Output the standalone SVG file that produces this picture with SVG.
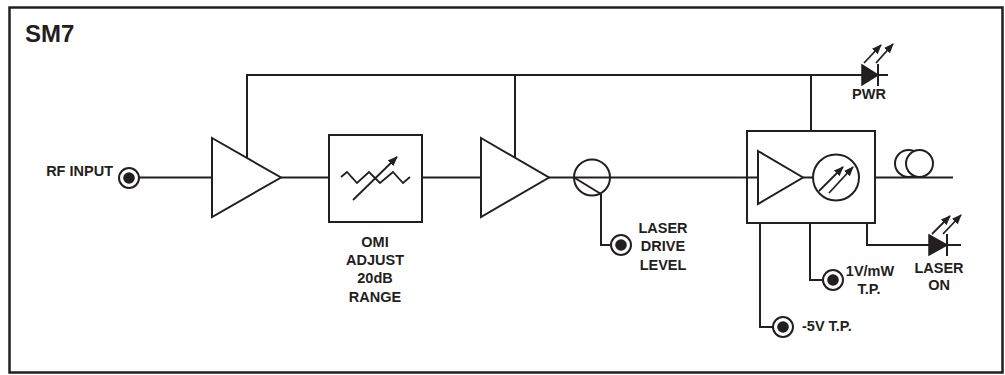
<svg xmlns="http://www.w3.org/2000/svg" width="1005" height="375" viewBox="0 0 1005 375">
<style>
.ln{fill:none;stroke:#231f20;stroke-width:2}
.sh{fill:#fff;stroke:#231f20;stroke-width:2}
.fl{fill:#231f20;stroke:#231f20;stroke-width:1.5}
.ar{fill:none;stroke:#231f20;stroke-width:1.8;marker-end:url(#ah)}
.t{font-family:"Liberation Sans",Arial,Helvetica,sans-serif;font-weight:bold;font-size:14.5px;fill:#231f20}
.c{text-anchor:middle}
</style>
<defs>
<marker id="ah" markerUnits="userSpaceOnUse" markerWidth="12" markerHeight="10" refX="9" refY="4" orient="auto">
<path d="M0,0 L10,4 L0,8 z" fill="#231f20"/>
</marker>
<g id="jack">
<circle cx="0" cy="0" r="10" class="sh"/>
<circle cx="0" cy="0" r="5.8" fill="#231f20"/>
</g>
</defs>
<rect x="9.5" y="7.5" width="993" height="365" fill="#fff" stroke="#231f20" stroke-width="2.5"/>
<text x="25" y="42" class="t" style="font-size:24px">SM7</text>
<g id="connectors">
<path class="ln" d="M247,158 V75 H888"/>
<path class="ln" d="M515,158 V75"/>
<path class="ln" d="M811,131 V75"/>
<path class="ln" d="M139,177.5 H212"/>
<path class="ln" d="M281,177.5 H329"/>
<path class="ln" d="M422,177.5 H481"/>
<path class="ln" d="M549,177.5 H747"/>
<path class="ln" d="M574,177.5 L601,194 V245 H611"/>
<path class="ln" d="M760,223 V327 H773"/>
<path class="ln" d="M810,223 V280 H823"/>
<path class="ln" d="M867,223 V245 H961"/>
<path class="ln" d="M875,177.5 H953"/>
</g>
<g id="rf-input">
<use href="#jack" x="129" y="178"/>
<text x="113" y="176" class="t" text-anchor="end">RF INPUT</text>
</g>
<g id="amp1">
<polygon class="sh" points="212,138 281,177.5 212,217"/>
</g>
<g id="omi-adjust">
<rect x="329" y="135" width="93" height="87" class="sh"/>
<polyline class="ln" style="stroke-width:1.8" points="341,177 347,172 357,183 369,172 380,183 393,172 403,183 410,177"/>
<line x1="353" y1="200" x2="397" y2="157" class="ar"/>
<text x="375" y="247" class="t c">OMI</text>
<text x="375" y="265" class="t c">ADJUST</text>
<text x="375" y="283" class="t c">20dB</text>
<text x="375" y="302" class="t c">RANGE</text>
</g>
<g id="amp2">
<polygon class="sh" points="481,138 549,177.5 481,217"/>
</g>
<g id="coupler">
<circle cx="592" cy="177.5" r="18" class="ln"/>
</g>
<g id="laser-drive">
<use href="#jack" x="621" y="245"/>
<text x="663" y="233" class="t c">LASER</text>
<text x="663" y="251" class="t c">DRIVE</text>
<text x="663" y="270" class="t c">LEVEL</text>
</g>
<g id="pwr-led">
<polygon class="fl" points="862,65 878,75 862,85"/>
<line x1="878" y1="64" x2="878" y2="86" class="ln"/>
<line x1="864" y1="63" x2="881" y2="45" class="ar"/>
<line x1="876" y1="63" x2="893" y2="44" class="ar"/>
<text x="869" y="99" class="t c">PWR</text>
</g>
<g id="laser-module">
<rect x="747" y="131" width="128" height="92" class="sh"/>
<line x1="747" y1="177.5" x2="758" y2="177.5" class="ln"/>
<polygon class="sh" points="758,151 803,177.5 758,204"/>
<line x1="803" y1="177.5" x2="813" y2="177.5" class="ln"/>
<circle cx="836" cy="177.5" r="23" class="sh"/>
<line x1="819" y1="191" x2="843" y2="167" class="ar"/>
<line x1="829" y1="193" x2="853" y2="167" class="ar"/>
</g>
<g id="fiber">
<circle cx="908.5" cy="163.5" r="13.5" class="sh"/>
<circle cx="919.5" cy="163.5" r="13.5" class="sh"/>
</g>
<g id="tp-1v">
<use href="#jack" x="833" y="280"/>
<text x="870" y="276" class="t c">1V/mW</text>
<text x="869" y="294" class="t c">T.P.</text>
</g>
<g id="tp-5v">
<use href="#jack" x="783" y="327"/>
<text x="802" y="331" class="t">-5V T.P.</text>
</g>
<g id="laser-on-led">
<polygon class="fl" points="929,235 947,245 929,255"/>
<line x1="947" y1="234" x2="947" y2="256" class="ln"/>
<line x1="932" y1="234" x2="950" y2="216" class="ar"/>
<line x1="943" y1="234" x2="961" y2="215" class="ar"/>
<text x="939" y="273" class="t c">LASER</text>
<text x="939" y="290" class="t c">ON</text>
</g>
</svg>
